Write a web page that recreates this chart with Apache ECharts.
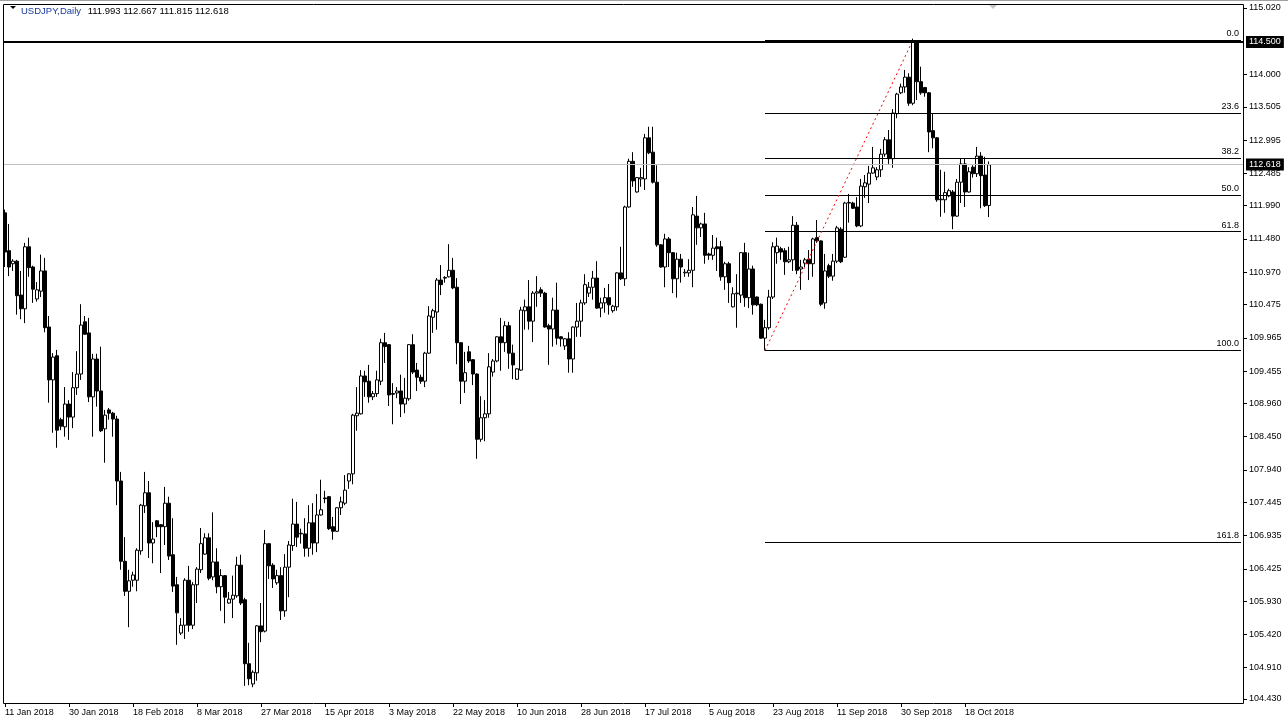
<!DOCTYPE html>
<html><head><meta charset="utf-8">
<script src="https://cdn.jsdelivr.net/npm/echarts@6/dist/echarts.min.js"></script>
<style>html,body{margin:0;padding:0;background:#fff;}#c{width:1288px;height:726px;}</style>
</head><body><div id="c"></div>
<script>
const symbolTitle = 'USDJPY,Daily';
const lastQuote = '111.993 112.667 111.815 112.618';
const xTickLabels = ['11 Jan 2018','30 Jan 2018','18 Feb 2018','8 Mar 2018','27 Mar 2018','15 Apr 2018','3 May 2018','22 May 2018','10 Jun 2018','28 Jun 2018','17 Jul 2018','5 Aug 2018','23 Aug 2018','11 Sep 2018','30 Sep 2018','18 Oct 2018'];
const yTickValues = [115.020,114.000,113.505,112.995,112.485,111.990,111.480,110.970,110.475,109.965,109.455,108.960,108.450,107.940,107.445,106.935,106.425,105.930,105.420,104.910,104.430];

const opens = [
111.88,111.30,111.10,111.14,110.62,110.41,111.36,111.05,110.56,110.68,
110.99,110.13,109.32,109.69,108.71,108.60,108.95,108.75,109.20,109.41,
110.21,110.04,109.06,109.64,109.15,108.57,108.86,108.81,108.72,107.77,
106.54,106.08,106.25,106.25,106.70,107.39,107.59,106.82,107.16,107.10,
107.07,107.43,106.64,106.18,105.44,105.56,106.25,105.56,106.18,106.41,
106.65,106.90,106.30,106.53,106.15,106.32,105.90,105.96,106.01,106.48,
105.95,104.97,104.66,104.83,105.55,105.47,106.81,106.48,106.21,106.32,
105.78,106.45,106.78,107.11,106.96,106.96,106.74,107.13,106.82,107.25,
107.51,107.53,107.07,107.00,107.36,107.43,107.77,107.88,108.77,108.80,
109.38,109.30,109.06,109.11,109.30,109.89,109.86,109.11,109.12,109.15,
108.95,109.03,109.86,109.47,109.36,109.30,109.73,110.28,110.36,110.85,
110.88,110.90,111.00,110.74,109.89,109.30,109.75,109.63,109.41,108.41,
108.74,108.80,109.44,109.61,109.98,109.89,110.15,109.73,109.33,109.47,
110.38,110.44,110.22,110.65,110.70,110.65,110.15,110.10,110.39,109.98,
109.84,109.95,109.64,110.13,110.22,110.50,110.65,110.74,110.88,110.42,
110.50,110.58,110.38,110.44,110.96,110.87,111.97,112.67,112.20,112.40,
112.40,113.03,112.81,112.35,111.39,111.05,111.48,111.27,110.87,111.17,
110.96,110.96,111.00,111.83,111.65,111.71,111.25,111.23,111.36,111.36,
110.90,111.10,110.44,110.64,110.62,111.27,110.58,111.02,110.59,110.48,
109.96,110.12,110.59,111.27,111.33,111.30,111.13,111.16,111.69,111.02,
111.11,111.17,111.10,111.50,111.45,110.50,111.07,110.91,111.14,111.63,
111.20,112.03,112.03,111.97,111.68,112.28,112.32,112.49,112.43,112.54,
112.78,113.00,112.71,113.40,113.72,113.81,113.96,113.56,114.50,113.89,
113.80,113.72,113.14,113.03,112.08,112.08,112.14,112.20,111.83,112.35,
112.63,112.20,112.58,112.48,112.75,112.46,111.993];

const closes = [
111.28,111.05,111.14,110.61,110.41,111.36,111.04,110.71,110.70,110.99,
110.12,109.32,109.67,108.55,108.61,108.95,108.75,109.20,109.41,110.16,
110.02,109.06,109.64,109.15,108.54,108.78,108.81,108.72,107.77,106.54,
106.08,106.24,106.33,106.71,107.40,107.59,106.82,106.88,107.07,107.07,
107.43,106.62,106.16,105.75,105.56,106.25,105.56,106.18,106.42,106.81,
106.90,106.28,106.53,106.15,106.32,105.99,105.96,106.02,106.48,105.90,
104.97,104.74,104.84,105.55,105.46,106.81,106.47,106.27,106.32,105.78,
106.45,106.79,107.11,106.91,106.97,106.74,107.13,106.82,107.25,107.33,
107.50,107.04,107.00,107.36,107.45,107.63,107.88,108.78,108.81,109.38,
109.29,109.06,109.11,109.32,109.89,109.83,109.09,109.10,109.15,108.95,
109.04,109.86,109.44,109.36,109.30,109.73,110.30,110.38,110.85,110.78,
110.89,111.00,110.73,109.89,109.30,109.43,109.61,109.41,108.41,108.74,
108.80,109.52,109.61,109.98,109.89,110.15,109.73,109.55,109.49,110.39,
110.44,110.22,110.65,110.67,110.65,110.13,110.10,110.39,109.96,109.95,
109.95,109.64,110.13,110.22,110.50,110.78,110.74,110.88,110.42,110.50,
110.58,110.47,110.45,110.96,110.87,111.97,112.67,112.37,112.42,112.42,
113.03,112.80,112.35,111.39,111.05,111.48,111.27,110.87,111.17,111.05,
110.97,111.00,111.85,111.65,111.71,111.23,111.23,111.34,111.33,110.90,
111.10,110.81,110.64,110.65,111.27,110.58,111.02,110.47,110.47,109.96,
110.12,110.59,111.36,111.37,111.28,111.13,111.16,111.69,111.00,111.05,
111.16,111.10,111.48,111.45,110.48,110.99,110.91,111.14,111.65,111.13,
112.03,112.04,111.95,111.68,112.29,112.34,112.49,112.57,112.54,112.78,
113.00,112.71,113.41,113.70,113.81,113.96,113.56,114.50,113.89,113.72,
113.72,113.12,113.03,112.08,112.09,112.19,112.22,111.83,112.35,112.63,
112.20,112.51,112.48,112.75,112.45,111.99,112.618];

const lows = [
111.05,110.91,110.99,110.32,110.25,110.19,110.90,110.50,110.52,110.59,
110.05,108.97,108.51,108.28,108.55,108.45,108.40,108.58,109.09,109.32,
110.01,108.98,108.45,108.91,108.52,108.05,108.71,108.45,107.40,106.41,
106.01,105.53,106.15,106.08,106.64,107.28,106.59,106.51,106.91,106.36,
106.79,106.56,106.07,105.26,105.41,105.35,105.46,105.50,105.90,106.36,
106.64,106.25,106.25,106.05,105.78,105.59,105.89,105.67,105.98,105.87,
104.63,104.64,104.61,104.71,105.30,105.45,106.27,106.13,106.18,105.64,
105.69,105.99,106.70,106.76,106.81,106.61,106.61,106.64,106.68,107.24,
107.43,107.02,106.87,106.99,107.25,107.40,107.65,107.72,108.54,108.79,
109.06,108.97,109.01,109.06,109.24,109.58,108.92,108.64,109.04,108.75,
108.81,109.00,109.41,109.15,109.26,109.21,109.72,110.04,110.09,110.62,
110.81,110.89,110.71,109.56,108.95,109.12,109.58,109.24,108.11,108.37,
108.38,108.74,109.37,109.59,109.46,109.75,109.49,109.33,109.32,109.46,
110.09,110.09,109.90,110.44,110.59,110.12,109.55,109.83,109.86,109.83,
109.78,109.43,109.43,109.98,109.98,110.47,110.59,110.55,110.41,110.28,
110.35,110.32,110.35,110.38,110.85,110.76,111.96,112.28,112.19,112.28,
112.23,112.78,112.33,111.36,111.04,110.74,111.05,110.65,110.58,110.81,
110.90,110.90,110.74,111.39,111.51,111.10,111.16,111.16,110.99,110.84,
110.70,110.50,110.43,110.12,110.50,110.44,110.42,110.32,110.45,109.95,
109.77,110.09,110.56,111.10,111.16,110.93,111.11,110.99,110.94,110.70,
111.05,110.85,110.90,111.42,110.45,110.41,110.88,110.84,111.11,111.11,
111.19,111.73,111.94,111.66,111.66,112.11,112.03,112.48,112.38,112.43,
112.74,112.63,112.57,113.33,113.70,113.72,113.52,113.53,113.61,113.69,
113.66,112.81,112.87,112.05,111.82,111.88,112.12,111.63,111.82,112.03,
111.97,112.19,112.42,112.43,111.95,111.97,111.815];

const highs = [
111.93,111.71,111.17,111.16,110.99,111.42,111.50,111.07,110.82,111.24,
111.19,110.30,109.73,109.78,108.74,109.21,109.01,109.44,109.76,110.48,
110.30,110.27,109.72,109.72,109.83,108.86,108.89,108.83,108.77,107.91,
106.91,106.41,106.38,106.74,107.42,107.91,107.77,107.14,107.17,107.11,
107.68,107.53,107.20,106.30,105.67,106.28,106.47,106.22,106.45,107.05,
106.97,106.97,107.29,106.74,106.42,106.33,106.07,106.32,106.61,106.64,
105.98,105.29,104.87,105.56,105.90,107.02,106.82,106.51,106.41,106.45,
106.65,106.85,107.50,107.45,107.04,107.20,107.40,107.43,107.57,107.79,
107.62,107.54,107.22,107.37,107.53,107.86,107.89,108.80,109.21,109.47,
109.46,109.55,109.15,109.46,109.95,110.04,109.87,109.27,109.21,109.40,
109.35,109.87,110.02,109.58,109.40,109.75,110.45,110.41,110.88,111.08,
110.91,111.40,111.19,110.88,109.90,109.75,109.84,109.64,109.42,109.07,
109.01,109.73,109.64,109.99,110.27,110.22,110.21,109.86,109.50,110.44,
110.55,110.85,110.68,110.91,110.74,110.67,110.18,110.58,110.81,109.99,
109.96,110.05,110.14,110.50,110.55,110.94,110.82,110.99,111.14,110.58,
110.73,110.79,110.47,110.97,111.36,111.99,112.71,112.81,112.43,112.57,
113.09,113.20,113.20,112.61,111.40,111.56,111.51,111.28,111.27,111.25,
111.02,111.17,111.97,112.14,111.73,111.88,111.27,111.54,111.50,111.45,
111.13,111.13,110.74,110.94,111.28,111.42,111.27,111.07,110.60,110.49,
110.24,110.70,111.43,111.50,111.36,111.34,111.36,111.83,111.74,111.16,
111.19,111.31,111.50,111.77,111.46,111.25,111.10,111.25,111.68,111.66,
112.05,112.17,112.05,112.12,112.40,112.46,112.60,112.89,112.58,112.86,
113.04,113.15,113.47,113.72,113.86,114.07,114.02,114.55,114.51,114.12,
113.81,113.73,113.40,113.04,112.54,112.51,112.25,112.23,112.40,112.72,
112.72,112.58,112.61,112.89,112.81,112.74,112.667];

const fibHigh = 114.53;
const fibLow = 109.774;
const fibLevels = [0, 23.6, 38.2, 50, 61.8, 100, 161.8];
const fibStartIndex = 190;
const fibEndIndex = 227;
const hLinePrice = 114.5;
const bidPrice = 112.618;
const totalSlots = 310;

// category dates (Sunday-Friday sessions)
const months = ['Jan','Feb','Mar','Apr','May','Jun','Jul','Aug','Sep','Oct','Nov','Dec'];
const cats = [];
const d = new Date(Date.UTC(2018, 0, 11));
for (let i = 0; i < opens.length; i++) {
  while (d.getUTCDay() === 6) d.setUTCDate(d.getUTCDate() + 1);
  cats.push(d.getUTCDate() + ' ' + months[d.getUTCMonth()] + ' ' + d.getUTCFullYear());
  d.setUTCDate(d.getUTCDate() + 1);
}
while (cats.length < totalSlots) cats.push('');

const candleData = opens.map((o, i) => [o, closes[i], lows[i], highs[i]]);
const tickShown = (i) => i % 16 === 0 && i / 16 < xTickLabels.length;
const FONT = 'Liberation Sans';

const fibLines = fibLevels.map(lv => {
  const v = fibHigh - (fibHigh - fibLow) * lv / 100;
  return [
    { coord: [fibStartIndex, v], lineStyle: { color: '#000', width: 1, type: 'solid' },
      label: { show: true, position: 'insideEndTop', formatter: lv.toFixed(1), color: '#000', fontSize: 9, fontFamily: FONT, distance: [2, 2] } },
    { coord: [totalSlots - 1, v] }
  ];
});

const chart = echarts.init(document.getElementById('c'), null, { renderer: 'canvas' });
chart.setOption({
  animation: false,
  backgroundColor: '#fff',
  grid: { left: 3, right: 45, top: 4, bottom: 23, show: false },
  xAxis: {
    type: 'category', data: cats, boundaryGap: true,
    axisLine: { show: false },
    axisTick: { show: true, interval: (i) => tickShown(i), alignWithLabel: true, length: 4, lineStyle: { color: '#000' } },
    axisLabel: { show: true, interval: (i) => tickShown(i), formatter: (v, i) => xTickLabels[i / 16] || '', align: 'left', color: '#000', fontSize: 9, fontFamily: FONT, margin: 5 },
    splitLine: { show: false }
  },
  yAxis: {
    type: 'value', position: 'right', scale: true,
    min: 104.368, max: 115.081,
    axisLine: { show: false },
    axisTick: { show: true, customValues: yTickValues, length: 4, lineStyle: { color: '#000' } },
    axisLabel: { show: true, customValues: yTickValues, formatter: (v) => v.toFixed(3), color: '#000', fontSize: 9, fontFamily: FONT, margin: 6 },
    splitLine: { show: false }
  },
  series: [{
    type: 'candlestick',
    data: candleData,
    barWidth: 3,
    itemStyle: { color: '#fff', color0: '#000', borderColor: '#000', borderColor0: '#000', borderWidth: 1 },
    markLine: {
      silent: true, symbol: ['none', 'none'], animation: false, z: 10,
      data: [
        ...fibLines,
        [
          { coord: [fibStartIndex, fibLow], lineStyle: { color: '#ff0000', width: 1, type: [2, 3] }, label: { show: false } },
          { coord: [fibEndIndex, fibHigh] }
        ],
        { yAxis: bidPrice, lineStyle: { color: '#c0c0c0', width: 1, type: 'solid' },
          label: { show: true, position: 'end', formatter: bidPrice.toFixed(3), color: '#fff', backgroundColor: '#000', padding: [2, 3, 1, 3], fontSize: 9, fontFamily: FONT, distance: 3 } },
        { yAxis: hLinePrice, lineStyle: { color: '#000', width: 2, type: 'solid' },
          label: { show: true, position: 'end', formatter: hLinePrice.toFixed(3), color: '#fff', backgroundColor: '#000', padding: [2, 3, 1, 3], fontSize: 9, fontFamily: FONT, distance: 3 } }
      ]
    }
  }],
  graphic: [
    { type: 'rect', shape: { x: 3.5, y: 4.5, width: 1240, height: 699 }, style: { fill: 'none', stroke: '#000', lineWidth: 1 }, silent: true, z: 100 },
    { type: 'line', shape: { x1: 0, y1: 0.5, x2: 1288, y2: 0.5 }, style: { stroke: '#a0a0a0', lineWidth: 1 }, silent: true },
    { type: 'polygon', shape: { points: [[10, 6], [16, 6], [13, 9]] }, style: { fill: '#000' }, silent: true },
    { type: 'polygon', shape: { points: [[988, 4], [998, 4], [993, 9]] }, style: { fill: '#c8c8c8' }, silent: true },
    { type: 'text', left: 21, top: 5, style: { text: '{a|' + symbolTitle + '}  {b|' + lastQuote + '}', rich: { a: { fill: '#17399b', fontSize: 9.5, fontFamily: FONT }, b: { fill: '#000', fontSize: 9.5, fontFamily: FONT } } }, silent: true }
  ]
});
</script></body></html>
